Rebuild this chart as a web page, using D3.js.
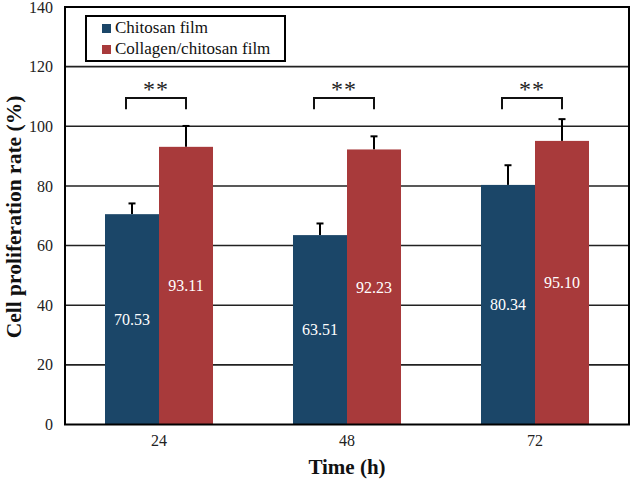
<!DOCTYPE html>
<html>
<head>
<meta charset="utf-8">
<script src="https://cdn.jsdelivr.net/npm/d3@7"></script>
<style>
  html, body { margin: 0; padding: 0; background: #fff; }
  svg { display: block; }
  text { font-family: "Liberation Serif", "Times New Roman", serif; }
</style>
</head>
<body>
<div id="chart"></div>
<script>
const categories = ["24", "48", "72"];
const seriesNames = ["Chitosan film", "Collagen/chitosan film"];
const chitosan = [70.53, 63.51, 80.34];
const collagen = [93.11, 92.23, 95.10];
const chitosanErr = [3.6, 3.9, 6.6];
const collagenErr = [7.0, 4.4, 7.3];
const significance = ["**", "**", "**"];
const bracketTop = 109.5;
const bracketBottom = 105.7;
const yTicks = [0, 20, 40, 60, 80, 100, 120, 140];
const colors = ["#1b4668", "#a83a3b"];

const W = 630, H = 481;
const margin = { left: 65, right: 1, top: 7, bottom: 57 };
const svg = d3.select("#chart").append("svg").attr("width", W).attr("height", H);

const x0 = d3.scaleBand().domain(categories)
  .range([margin.left, W - margin.right])
  .paddingInner(0.4255).paddingOuter(0.21277);
const x1 = d3.scaleBand().domain([0, 1]).range([0, x0.bandwidth()]);
const y = d3.scaleLinear().domain([0, 140]).range([H - margin.bottom + 0.5, margin.top]);

// gridlines
svg.append("g").selectAll("line").data(yTicks.filter(t => t > 0 && t < 140)).join("line")
  .attr("x1", margin.left).attr("x2", W - margin.right)
  .attr("y1", d => y(d)).attr("y2", d => y(d))
  .attr("stroke", "#222").attr("stroke-width", 1.6);

// y axis labels
const yAxis = d3.axisLeft(y).tickValues(yTicks).tickSize(0).tickPadding(12);
const gy = svg.append("g").attr("transform", `translate(${margin.left},0)`).call(yAxis)
  .attr("font-family", "'Liberation Serif', serif");
gy.select(".domain").remove();
gy.selectAll("text").attr("font-size", 16).attr("fill", "#222")
  .style("font-family", "'Liberation Serif', serif");

// x axis labels
const xAxis = d3.axisBottom(x0).tickSize(0).tickPadding(10);
const gx = svg.append("g").attr("transform", `translate(0,${y(0)})`).call(xAxis)
  .attr("font-family", "'Liberation Serif', serif");
gx.select(".domain").remove();
gx.selectAll("text").attr("font-size", 16).attr("fill", "#222")
  .style("font-family", "'Liberation Serif', serif");

const data = categories.map((c, i) => ({
  cat: c,
  vals: [
    { s: 0, v: chitosan[i], e: chitosanErr[i] },
    { s: 1, v: collagen[i], e: collagenErr[i] }
  ],
  sig: significance[i]
}));

const groups = svg.append("g").selectAll("g").data(data).join("g")
  .attr("transform", d => `translate(${x0(d.cat)},0)`);

// error bars
groups.selectAll("g.err").data(d => d.vals).join("g").attr("class", "err").each(function(d) {
  const g = d3.select(this);
  const cx = x1(d.s) + x1.bandwidth() / 2;
  g.append("line").attr("x1", cx).attr("x2", cx).attr("y1", y(d.v)).attr("y2", y(d.v + d.e))
    .attr("stroke", "#000").attr("stroke-width", 2);
  g.append("line").attr("x1", cx - 3.5).attr("x2", cx + 3.5).attr("y1", y(d.v + d.e)).attr("y2", y(d.v + d.e))
    .attr("stroke", "#000").attr("stroke-width", 2);
});

// bars
groups.selectAll("rect").data(d => d.vals).join("rect")
  .attr("x", d => x1(d.s)).attr("width", x1.bandwidth())
  .attr("y", d => y(d.v)).attr("height", d => y(0) - y(d.v))
  .attr("fill", d => colors[d.s]);

// value labels
groups.selectAll("text.val").data(d => d.vals).join("text").attr("class", "val")
  .attr("x", d => x1(d.s) + x1.bandwidth() / 2)
  .attr("y", d => (y(d.v) + y(0)) / 2)
  .attr("dy", "0.35em")
  .attr("text-anchor", "middle").attr("font-size", 16).attr("fill", "#fff")
  .text(d => d.v.toFixed(2));

// significance brackets
groups.each(function(d) {
  const g = d3.select(this);
  const xl = x1(0) + x1.bandwidth() / 2 - 6;
  const xr = x1(1) + x1.bandwidth() / 2;
  g.append("path")
    .attr("d", `M${xl},${y(bracketBottom)}V${y(bracketTop)}H${xr}V${y(bracketBottom)}`)
    .attr("fill", "none").attr("stroke", "#111").attr("stroke-width", 2);
  g.append("text").attr("x", (xl + xr) / 2).attr("y", y(bracketTop) - 0.5)
    .attr("text-anchor", "middle").attr("font-size", 24).attr("fill", "#222")
    .attr("letter-spacing", 1)
    .text(d.sig);
});

// plot frame
svg.append("rect").attr("x", margin.left).attr("y", margin.top)
  .attr("width", W - margin.right - margin.left).attr("height", y(0) - margin.top)
  .attr("fill", "none").attr("stroke", "#000").attr("stroke-width", 2);

// legend
const lg = svg.append("g");
lg.append("rect").attr("x", 86).attr("y", 16).attr("width", 199).attr("height", 45)
  .attr("fill", "#fff").attr("stroke", "#000").attr("stroke-width", 2);
seriesNames.forEach((n, i) => {
  lg.append("rect").attr("x", 102).attr("y", 24 + i * 21).attr("width", 9).attr("height", 9)
    .attr("fill", colors[i]);
  lg.append("text").attr("x", 115).attr("y", 33 + i * 21).attr("font-size", 17).attr("fill", "#111")
    .text(n);
});

// axis titles
svg.append("text").attr("x", (margin.left + W - margin.right) / 2).attr("y", 474)
  .attr("text-anchor", "middle").attr("font-size", 21).attr("font-weight", "bold").attr("fill", "#111")
  .text("Time (h)");
svg.append("text").attr("transform", `translate(21,${217}) rotate(-90)`)
  .attr("text-anchor", "middle").attr("font-size", 21.5).attr("font-weight", "bold").attr("fill", "#111")
  .text("Cell proliferation rate (%)");
</script>
</body>
</html>
